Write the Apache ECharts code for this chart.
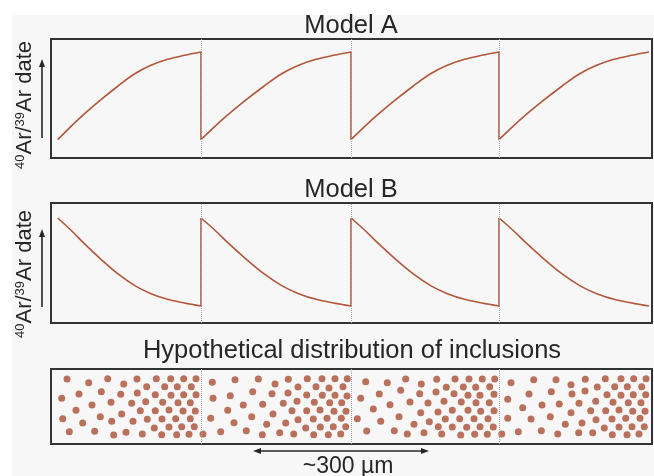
<!DOCTYPE html>
<html>
<head>
<meta charset="utf-8">
<script src="https://cdn.jsdelivr.net/npm/echarts@6/dist/echarts.min.js"></script>
<style>
  html, body { margin: 0; padding: 0; background: #fff; }
  #chart { width: 654px; height: 476px; }
</style>
</head>
<body>
<div id="chart"></div>
<script>
// position along the grain (0..601), dividers between the four zones
const dividers = [150, 300, 448];
const segStarts = [6.7, 150, 300, 448];
const segEnds = [150, 300, 448, 598];

// date profile inside one zone: fraction of zone width -> date (0 = bottom, 100 = top)
const profileT = [0, 0.093, 0.186, 0.302, 0.419, 0.535, 0.651, 0.767, 0.884, 1];
const modelA = [15.4, 26.6, 37.0, 49.0, 60.3, 70.6, 77.9, 82.9, 86.3, 89.1];
const modelB = [87.5, 77.3, 66.1, 53.1, 41.1, 31.4, 24.4, 19.8, 16.7, 14.2];

// inclusions: [position, depth]
const inclZone1 = [
  [16, 10], [37.7, 13.7], [56.7, 9.7], [72.7, 15], [86, 10], [105.3, 9.7], [119.7, 9.7], [132.7, 9.7], [145, 9.7],
  [95.7, 17.7], [113.7, 17.7], [126.3, 17.7], [140.3, 17.7],
  [10.7, 29.3], [28, 25], [50.3, 22.7], [69.7, 25.3], [86.3, 24], [104.3, 25.7], [120, 26.3], [132.7, 25.7], [145, 25.7],
  [41, 36], [60, 33.3], [80.7, 34.3], [94.7, 32.7], [111.7, 33.3], [127, 33.7], [139.3, 33.7],
  [25, 41.3], [70.7, 45], [89.3, 41.7], [104.3, 41.7], [118, 41], [132, 42], [144.3, 42],
  [11.7, 49.7], [49.3, 47.7], [60.7, 52.3], [82, 52.3], [96.3, 50.3], [111, 50], [124.7, 49.7], [139.3, 49.7],
  [31.7, 54], [103.3, 59], [118, 58], [130.7, 57.7], [143.3, 57.7],
  [18.3, 62.7], [43.7, 62.3], [62.7, 66], [75, 63.3], [91.3, 65], [110.7, 65.7], [125.7, 65.7], [138, 65.3]
];
const inclZone2 = [
  [152, 65], [161.3, 13.3], [184, 10.7], [207.3, 10], [224, 15], [237.3, 10.3], [256.3, 9.7], [271, 9.7], [284, 9.7], [296.3, 9.7],
  [247, 18], [265, 17.7], [278, 19], [292, 17.7],
  [162, 29.3], [179.3, 26.7], [201.7, 22.7], [221, 24.7], [237, 24], [255.7, 26], [271.3, 26.3], [284, 26.3], [296, 27],
  [192.3, 36], [211.7, 35.3], [232.3, 34.3], [246, 32.3], [263.3, 33.3], [278.7, 33.7], [290.7, 33.7],
  [176.7, 41.3], [222, 45], [241, 41.7], [255.7, 41.7], [269, 41], [283, 42.3], [295, 42.3],
  [159.7, 49.3], [200.7, 47.7], [183, 53.7], [215.7, 55.3], [234.7, 54], [247, 50.7], [262.3, 50], [276, 49.3], [290.3, 49.3],
  [294.7, 57.7], [254.7, 59], [269.3, 58], [282.3, 57.7],
  [169.7, 62.7], [195.3, 61.7], [211.3, 65.7], [228.7, 63.7], [242.7, 65], [262.7, 65.7], [277.3, 65.7], [289.7, 65]
];
const inclZone3 = [
  [314.7, 12.7], [336.3, 13.7], [354.7, 10], [370.3, 15], [385.7, 10.3], [404, 10], [418, 10], [431.3, 10], [443.7, 10],
  [395.3, 18.3], [412.3, 18], [424.7, 18.3], [438.7, 17.7],
  [328.3, 25], [349.7, 21.3], [368.7, 24.7], [385, 23], [403, 24.7], [417, 26.3], [429, 26.3], [443, 25.3],
  [309.7, 29.3], [339, 35.7], [359, 33], [377, 34], [393, 32.3], [410.3, 33], [425, 33.7], [438.3, 33.7],
  [322.3, 40], [369.7, 43.7], [387, 43], [401.3, 41.3], [417, 41.3], [429.7, 42.3], [443, 41.7],
  [306.3, 49.7], [329.7, 52.3], [348, 47.7], [378.3, 52.7], [394.3, 50], [408.7, 49.7], [423, 49.7], [437, 49.7],
  [363, 55.3], [387.3, 57.7], [401.3, 58], [415.7, 58.3], [429, 57.7], [442.3, 58],
  [315.7, 62], [343.3, 61.7], [356.3, 65], [373, 63.7], [390.7, 65], [409.7, 66], [423.7, 65.3], [436.3, 65.3]
];
const inclZone4 = [
  [450.7, 65], [460, 13.7], [482.7, 10.7], [505, 10.7], [520, 15.7], [534.3, 10.3], [554.3, 9.7], [570, 9.7], [582.7, 9.7], [595, 9.7],
  [546.3, 18], [563.7, 17.7], [576.3, 17.7], [590.7, 17.7],
  [456.7, 30.3], [478, 25], [500.3, 22.7], [521, 25], [534, 22], [556, 25.7], [570, 26.3], [582.3, 25.7], [594.7, 25.7],
  [471.7, 38.7], [491, 36], [508.3, 35], [528, 34.3], [544.7, 32.3], [562, 33.3], [577.3, 33.7], [590, 33.7],
  [520, 43.7], [539.7, 41.7], [554.7, 41.7], [568, 41], [581.7, 42.3], [594, 42.3],
  [456.7, 49.3], [480, 50], [499.3, 47.7], [514.3, 55.3], [531, 54], [545, 50.7], [561, 50], [574.7, 49.3], [589, 49.3],
  [593.3, 57.7], [553.3, 59], [568, 58], [581, 57.7],
  [467.3, 62.7], [490.3, 61.7], [506.7, 65], [527.7, 63.7], [541.7, 63.7], [561.3, 65.7], [576, 65.7], [588, 65]
];

const FONT = '"Liberation Sans", Arial, sans-serif';
const CURVE = '#b0573c';
const DOT = '#a94f35';
const INK = '#262626';

const chart = echarts.init(document.getElementById('chart'), null, { renderer: 'canvas' });

const dividerLine = {
  silent: true,
  symbol: ['none', 'none'],
  label: { show: false },
  lineStyle: { type: 'dotted', color: '#a8a8a8', width: 1 },
  animation: false,
  data: dividers.map(d => ({ xAxis: d }))
};

// one smooth line per zone, vertical jumps drawn as separate two-point lines
function zoneSeries(profile, gi) {
  const out = [];
  segStarts.forEach((s, k) => {
    out.push({
      type: 'line', xAxisIndex: gi, yAxisIndex: gi, smooth: 0.35, symbol: 'none',
      lineStyle: { color: CURVE, width: 1.6 },
      data: profileT.map((t, i) => [s + t * (segEnds[k] - s), profile[i]]),
      markLine: k === 0 ? dividerLine : undefined,
      z: 3
    });
  });
  dividers.forEach(d => {
    out.push({
      type: 'line', xAxisIndex: gi, yAxisIndex: gi, symbol: 'none',
      lineStyle: { color: CURVE, width: 1.6 },
      data: [[d, profile[profile.length - 1]], [d, profile[0]]],
      z: 3
    });
  });
  return out;
}

const ylabel = (x, y) => ({
  type: 'text', x: x, y: y, rotation: Math.PI / 2,
  style: {
    text: '{s|40}Ar/{s|39}Ar date',
    fontSize: 22, fontFamily: FONT, fill: INK,
    align: 'center', verticalAlign: 'middle',
    rich: { s: { fontSize: 13, fontFamily: FONT, fill: INK, verticalAlign: 'top' } }
  }
});

const upArrow = (x, y0, y1) => ([
  { type: 'line', shape: { x1: x, y1: y0, x2: x, y2: y1 + 6 }, style: { stroke: INK, lineWidth: 1.6 } },
  { type: 'polygon', shape: { points: [[x, y1], [x - 3, y1 + 8], [x + 3, y1 + 8]] }, style: { fill: INK } }
]);

const title = (text, x, y) => ({
  type: 'text', x: x, y: y,
  style: { text: text, fontSize: 25.5, fontFamily: FONT, fill: INK, align: 'center', verticalAlign: 'middle' }
});

const option = {
  backgroundColor: '#fff',
  animation: false,
  grid: [
    { left: 51, right: 2, top: 39, height: 119, show: true, borderColor: '#333', borderWidth: 2, backgroundColor: 'transparent' },
    { left: 51, right: 2, top: 203, height: 120, show: true, borderColor: '#333', borderWidth: 2, backgroundColor: 'transparent' },
    { left: 51, right: 2, top: 369, height: 75, show: true, borderColor: '#333', borderWidth: 2, backgroundColor: 'transparent' }
  ],
  xAxis: [0, 1, 2].map(i => ({ type: 'value', gridIndex: i, min: 0, max: 601, show: false })),
  yAxis: [
    { type: 'value', gridIndex: 0, min: 0, max: 100, show: false },
    { type: 'value', gridIndex: 1, min: 0, max: 100, show: false },
    { type: 'value', gridIndex: 2, min: 0, max: 75, inverse: true, show: false }
  ],
  graphic: [
    // light grey plate behind the figure
    { type: 'rect', z: -10, shape: { x: 12, y: 15, width: 642, height: 461 }, style: { fill: '#f7f7f7' } },
    title('Model A', 351, 26),
    title('Model B', 351, 190),
    title('Hypothetical distribution of inclusions', 352, 351),
    ylabel(25, 105),
    ylabel(25, 274),
    ...upArrow(42, 138, 59),
    ...upArrow(42, 307, 229),
    // scale bar
    { type: 'line', shape: { x1: 259, y1: 451, x2: 423, y2: 451 }, style: { stroke: INK, lineWidth: 1.6 } },
    { type: 'polygon', shape: { points: [[253, 451], [261, 448], [261, 454]] }, style: { fill: INK } },
    { type: 'polygon', shape: { points: [[429, 451], [421, 448], [421, 454]] }, style: { fill: INK } },
    { type: 'text', x: 348, y: 467, style: { text: '~300 µm', fontSize: 23, fontFamily: FONT, fill: INK, align: 'center', verticalAlign: 'middle' } }
  ],
  series: [
    ...zoneSeries(modelA, 0),
    ...zoneSeries(modelB, 1),
    {
      type: 'scatter', xAxisIndex: 2, yAxisIndex: 2, symbolSize: 7,
      itemStyle: { color: DOT },
      data: [...inclZone1, ...inclZone2, ...inclZone3, ...inclZone4],
      markLine: dividerLine
    }
  ]
};

chart.setOption(option);
</script>
</body>
</html>
